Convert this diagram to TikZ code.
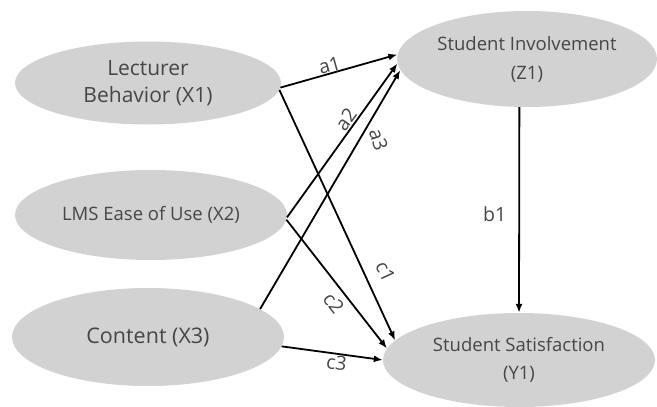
\documentclass[tikz,border=0pt]{standalone}
\usepackage{fontspec}
\setmainfont{Open Sans}
\usetikzlibrary{shapes.geometric,arrows.meta}
\definecolor{ellfill}{RGB}{210,210,210}
\definecolor{txtgray}{RGB}{70,70,70}
\begin{document}
\begin{tikzpicture}[x=1pt,y=-1pt,
  var/.style={ellipse,fill=ellfill,draw=none,inner sep=0pt,align=center,text=txtgray},
  path/.style={line width=1.8pt,-{Latex[length=9pt,width=7pt]}},
  lbl/.style={font=\fontsize{19.5}{22}\selectfont,text=txtgray,inner sep=1pt}]
\useasboundingbox (0,0) rectangle (657,407);
\node[var,minimum width=266pt,minimum height=83pt,font=\fontsize{21}{27}\selectfont] (X1) at (148,83) {Lecturer\\Behavior (X1)};
\node[var,minimum width=272pt,minimum height=90pt,font=\fontsize{18.5}{24}\selectfont] (X2) at (151,215) {LMS Ease of Use (X2)};
\node[var,minimum width=272pt,minimum height=98pt,font=\fontsize{21.5}{27}\selectfont] (X3) at (148,337) {Content (X3)};
\node[var,minimum width=260pt,minimum height=96pt,font=\fontsize{18.5}{29}\selectfont] (Z1) at (527,59) {Student Involvement\\(Z1)};
\node[var,minimum width=272pt,minimum height=94pt,font=\fontsize{18.5}{28}\selectfont] (Y1) at (519,360) {Student Satisfaction\\(Y1)};
\draw[path] (X1.-2) -- node[lbl,pos=0.44,sloped,above=-1pt] {a1} (Z1.178.7);
\draw[path] (X1.-3) -- node[lbl,pos=0.76,sloped,above=11pt] {c1} (Y1.171.9);
\draw[path] (X2.-1) -- node[lbl,pos=0.6,sloped,above=0pt] {a2} (Z1.182);
\draw[path] (X2.-2.5) -- node[lbl,pos=0.58,sloped,below=5pt] {c2} (Y1.175.5);
\draw[path] (X3.14) -- node[lbl,pos=0.71,xshift=19pt,rotate=-72] {a3} (Z1.185.5);
\draw[path] (X3.-4) -- node[lbl,pos=0.555,sloped,below=0pt] {c3} (Y1.180.9);
\draw[path] (Z1.-99.5) -- node[lbl,pos=0.52,left=11pt] {b1} (Y1.north);
\end{tikzpicture}
\end{document}
